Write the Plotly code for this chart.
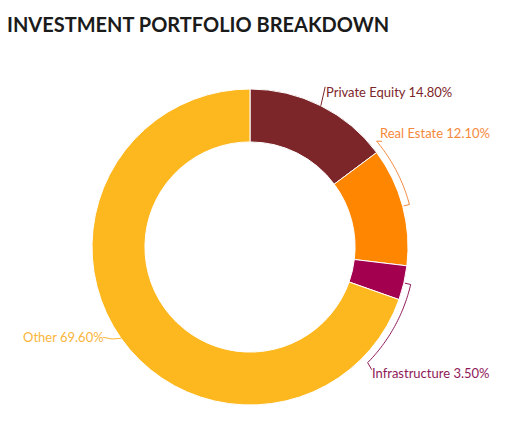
import math
import plotly.graph_objects as go

# ---- data ----
categories = ["Private Equity", "Real Estate", "Infrastructure", "Other"]
values = [14.8, 12.1, 3.5, 69.6]
colors = ["#7D2629", "#FF8600", "#A3004F", "#FDB81F"]
label_colors = ["#7D2629", "#F5883A", "#8E1858", "#F9B53A"]
title_text = "INVESTMENT PORTFOLIO BREAKDOWN"

# ---- layout constants (pixels) ----
W, H = 508, 445
CX, CY, R = 250, 247, 158
HOLE = 0.665
FONT = "Lato, 'Open Sans', sans-serif"

def px_x(x):
    return x / W

def px_y(y):
    return 1 - y / H

def polar(angle_deg, radius):
    a = math.radians(angle_deg)
    return CX + radius * math.sin(a), CY - radius * math.cos(a)

total = sum(values)
starts, mids, ends = [], [], []
acc = 0.0
for v in values:
    s = acc / total * 360
    acc += v
    e = acc / total * 360
    starts.append(s)
    ends.append(e)
    mids.append((s + e) / 2)

fig = go.Figure(go.Pie(
    labels=categories,
    values=values,
    sort=False,
    direction="clockwise",
    rotation=0,
    hole=HOLE,
    textinfo="none",
    marker=dict(colors=colors, line=dict(color="white", width=1)),
    domain=dict(x=[px_x(CX - R), px_x(CX + R)], y=[px_y(CY + R), px_y(CY - R)]),
    showlegend=False,
    hoverinfo="label+percent",
))

def path_from_points(pts):
    s = "M {:.5f} {:.5f}".format(px_x(pts[0][0]), px_y(pts[0][1]))
    for x, y in pts[1:]:
        s += " L {:.5f} {:.5f}".format(px_x(x), px_y(y))
    return s

def arc_points(a1, a2, radius, n=40):
    return [polar(a1 + (a2 - a1) * i / n, radius) for i in range(n + 1)]

shapes = []
annotations = []
RA = 165  # leader arc radius

def fmt(i):
    return f"{categories[i]} {values[i]:.2f}%"

# Private Equity: short radial leader
i = 0
p0 = polar(mids[i], R)
p1 = polar(mids[i] - 1.5, R + 19)
shapes.append(dict(type="path", path=path_from_points([p0, p1]),
                   xref="paper", yref="paper", line=dict(color=colors[i], width=1)))
annotations.append(dict(x=px_x(p1[0] - 1), y=px_y(p1[1] + 5), text=fmt(i), xanchor="left",
                        yanchor="middle", font=dict(color=label_colors[i])))

# Real Estate: curved leader from label down to slice middle
i = 1
a_lab = starts[i] - 3.2
pts = [polar(a_lab + 1.2, RA + 4)] + arc_points(a_lab, mids[i], RA) + [polar(mids[i], R + 1)]
shapes.append(dict(type="path", path=path_from_points(pts),
                   xref="paper", yref="paper", line=dict(color=label_colors[i], width=1)))
lp = polar(a_lab, RA)
annotations.append(dict(x=px_x(lp[0] + 1), y=px_y(lp[1] - 8), text=fmt(i), xanchor="left",
                        yanchor="middle", font=dict(color=label_colors[i])))

# Infrastructure: curved leader from slice middle down to label
i = 2
a_lab = 134.5
pts = [polar(mids[i], R + 1)] + arc_points(mids[i], a_lab, RA)
last = pts[-1]
pts.append((last[0] + 4, last[1] + 7))
shapes.append(dict(type="path", path=path_from_points(pts),
                   xref="paper", yref="paper", line=dict(color=label_colors[i], width=1)))
annotations.append(dict(x=px_x(last[0] + 2), y=px_y(last[1] + 10), text=fmt(i), xanchor="left",
                        yanchor="middle", font=dict(color=label_colors[i])))

# Other: short wavy leader to the left
i = 3
p0 = polar(mids[i], R)
p2 = (p0[0] - 18, p0[1] - 1)
pm = (p0[0] - 9, p0[1] + 2)
path = "M {:.5f} {:.5f} Q {:.5f} {:.5f} {:.5f} {:.5f}".format(
    px_x(p0[0]), px_y(p0[1]), px_x(pm[0]), px_y(pm[1]), px_x(p2[0]), px_y(p2[1]))
shapes.append(dict(type="path", path=path, xref="paper", yref="paper",
                   line=dict(color=label_colors[i], width=1)))
annotations.append(dict(x=px_x(p2[0] + 3), y=px_y(p2[1]), text=fmt(i), xanchor="right",
                        yanchor="middle", font=dict(color=label_colors[i])))

for a in annotations:
    a.update(xref="paper", yref="paper", showarrow=False)
    a["font"].update(family=FONT, size=13)

fig.update_layout(
    width=W, height=H,
    margin=dict(l=0, r=0, t=0, b=0),
    paper_bgcolor="white",
    plot_bgcolor="white",
    title=dict(text=title_text, x=px_x(7), xanchor="left", y=px_y(25), yanchor="middle",
               font=dict(family=FONT, size=20, color="#1B1B1B", weight="bold")),
    shapes=shapes,
    annotations=annotations,
)

fig.write_html("out.html")
